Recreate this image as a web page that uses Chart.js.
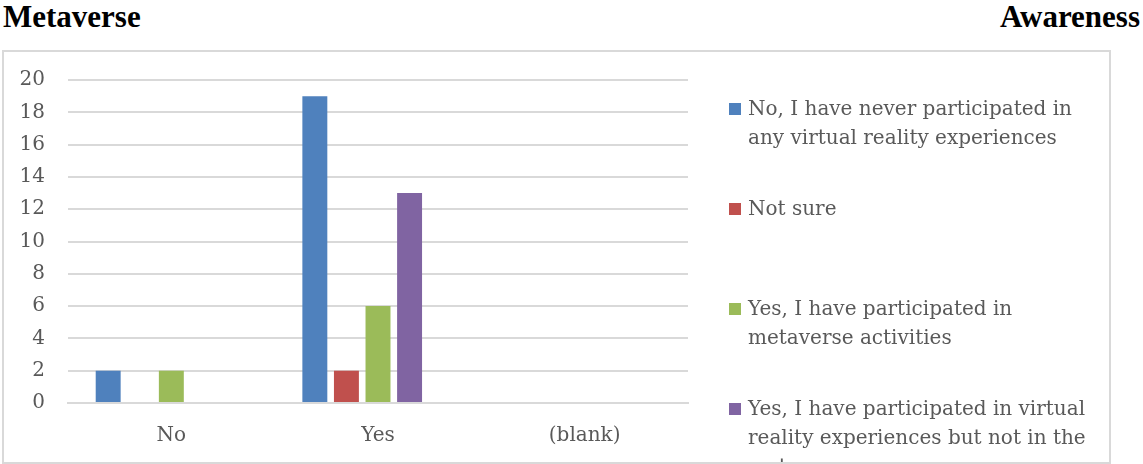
<!DOCTYPE html>
<html lang="en">

<head>
    <meta charset="UTF-8">
    <title>Metaverse Awareness</title>
    <style>
        body {
            margin: 0;
            width: 1143px;
            height: 464px;
            background: #ffffff;
            overflow: hidden;
            position: relative;
            font-family: "DejaVu Serif", serif;
        }

        .title {
            position: absolute;
            top: -1px;
            font-family: "Liberation Serif", serif;
            font-weight: bold;
            font-size: 31px;
            color: #000000;
        }

        .frame {
            position: absolute;
            left: 2px;
            top: 50px;
            width: 1105px;
            height: 410px;
            border: 2px solid #d9d9d9;
            overflow: hidden;
        }

        .legend {
            position: absolute;
            left: 723px;
            top: 0;
            width: 370px;
        }

        .legend-item {
            position: absolute;
            left: 0;
            font-size: 20px;
            line-height: 29px;
            color: #595959;
            padding-left: 21px;
            width: 345px;
        }

        .legend-item span {
            position: absolute;
            left: 2px;
            top: 9px;
            width: 12px;
            height: 12px;
        }
    </style>
</head>

<body>
    <div class="title" style="left:3px;">Metaverse</div>
    <div class="title" style="right:3px;">Awareness</div>

    <div class="frame">
        <canvas id="bar-chart" width="1105" height="410"></canvas>
        <div class="legend" id="legend"></div>
    </div>

    <script src="https://cdn.jsdelivr.net/npm/chart.js"></script>
    <script>
        var categories = ["No", "Yes", "(blank)"];
        var seriesNames = [
            "No, I have never participated in any virtual reality experiences",
            "Not sure",
            "Yes, I have participated in metaverse activities",
            "Yes, I have participated in virtual reality experiences but not in the metaverse",
            "(blank)"
        ];
        var neverValues = [2, 19, null];
        var notSureValues = [null, 2, null];
        var metaverseValues = [2, 6, null];
        var vrOnlyValues = [null, 13, null];
        var blankValues = [null, null, null];
        var seriesColors = ["#4f81bd", "#c0504d", "#9bbb59", "#8064a2", "#4bacc6"];
        var yTicks = [0, 2, 4, 6, 8, 10, 12, 14, 16, 18, 20];

        var allValues = [neverValues, notSureValues, metaverseValues, vrOnlyValues, blankValues];
        var datasets = seriesNames.map(function (name, i) {
            return {
                label: name,
                data: allValues[i],
                backgroundColor: seriesColors[i],
                categoryPercentage: 0.764,
                barPercentage: 0.79
            };
        });

        var tickFont = { family: "DejaVu Serif", size: 20 };

        var ctx = document.getElementById("bar-chart").getContext("2d");
        var myBarChart = new Chart(ctx, {
            type: "bar",
            data: { labels: categories, datasets: datasets },
            options: {
                responsive: false,
                animation: false,
                layout: { padding: { top: 28, right: 421, left: 0, bottom: 0 } },
                plugins: { legend: { display: false }, tooltip: { enabled: false } },
                scales: {
                    x: {
                        grid: { display: false, drawTicks: false },
                        border: { color: "#d9d9d9", width: 2 },
                        ticks: { color: "#595959", font: tickFont, padding: 21 },
                        afterFit: function (scale) { scale.height = 59; }
                    },
                    y: {
                        min: 0,
                        max: 20,
                        afterBuildTicks: function (scale) {
                            scale.ticks = yTicks.map(function (v) { return { value: v }; });
                        },
                        // invisible tick marks push the labels away from the plot
                        grid: { color: "#d9d9d9", lineWidth: 2, tickLength: 20, tickColor: "rgba(0,0,0,0)" },
                        border: { display: false },
                        ticks: { color: "#595959", font: tickFont, padding: 3 },
                        afterFit: function (scale) { scale.width = 64; }
                    }
                }
            }
        });

        // legend on the right, wrapped like the original
        var legend = document.getElementById("legend");
        var legendTops = [42, 142, 242, 342, 442];
        seriesNames.forEach(function (name, i) {
            var item = document.createElement("div");
            item.className = "legend-item";
            item.style.top = legendTops[i] + "px";
            item.innerHTML = '<span style="background:' + seriesColors[i] + '"></span>' + name;
            legend.appendChild(item);
        });
    </script>
</body>

</html>
